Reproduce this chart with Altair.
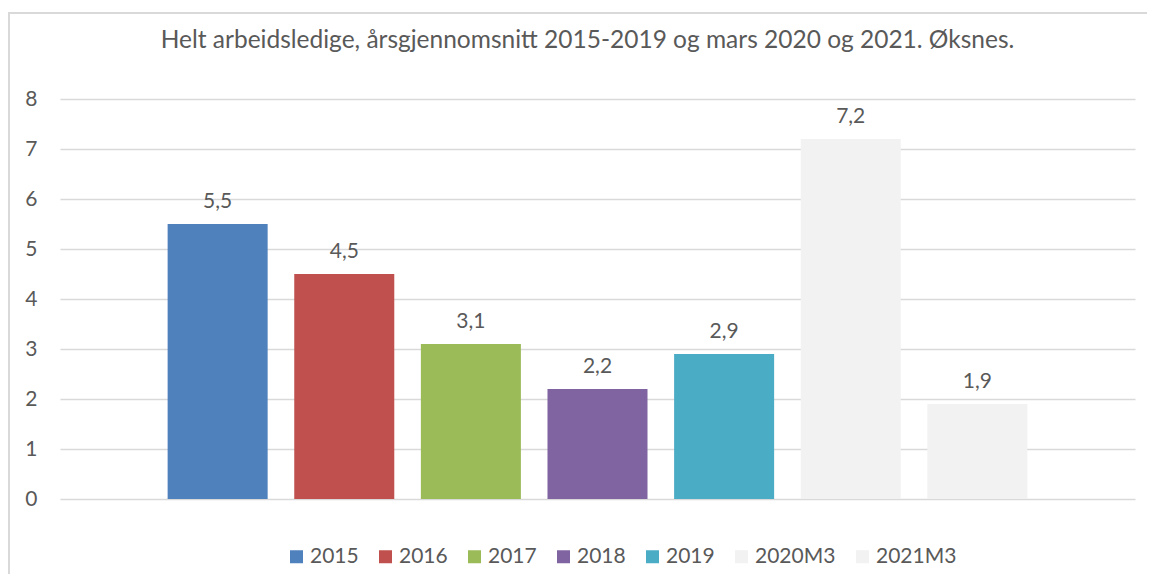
import altair as alt
import pandas as pd

categories = ["2015", "2016", "2017", "2018", "2019", "2020M3", "2021M3"]
values = [5.5, 4.5, 3.1, 2.2, 2.9, 7.2, 1.9]
colors = ["#4F81BD", "#C0504D", "#9BBB59", "#8064A2", "#4BACC6", "#F2F2F2", "#F2F2F2"]
y_ticks = [0, 1, 2, 3, 4, 5, 6, 7, 8]
title_text = "Helt arbeidsledige, årsgjennomsnitt 2015-2019 og mars 2020 og 2021. Øksnes."

df = pd.DataFrame({
    "cat": categories,
    "val": values,
    "label": [f"{v:.1f}".replace(".", ",") for v in values],
})

FONT = "Lato"
TXT = "#595959"

x_enc = alt.X("cat:N", sort=categories, axis=None,
              scale=alt.Scale(paddingInner=0.21, paddingOuter=0.85))
y_scale = alt.Scale(domain=[0, 8])

bars = alt.Chart(df).mark_bar().encode(
    x=x_enc,
    y=alt.Y("val:Q", scale=y_scale, title=None,
            axis=alt.Axis(values=y_ticks, grid=True, gridColor="#D9D9D9", gridWidth=1.5,
                          domain=False, ticks=False, labelPadding=23,
                          labelFont=FONT, labelFontSize=21, labelColor=TXT)),
    color=alt.Color("cat:N", sort=categories,
                    scale=alt.Scale(domain=categories, range=colors),
                    legend=alt.Legend(title=None, orient="none", direction="horizontal",
                                      legendX=226, legendY=447,
                                      symbolType="square", symbolSize=169,
                                      symbolStrokeWidth=0, labelFont=FONT,
                                      labelFontSize=21, labelColor=TXT,
                                      labelOffset=3, columnPadding=16)),
)

labels = alt.Chart(df).mark_text(font=FONT, fontSize=21, color=TXT, dy=-16,
                                 baseline="alphabetic").encode(
    x=alt.X("cat:N", sort=categories),
    y=alt.Y("val:Q", scale=y_scale),
    text="label:N",
)

frame = alt.Chart(df).mark_rect(fill=None, stroke="#D9D9D9", strokeWidth=2).encode(
    x=alt.value(-51), x2=alt.value(1200), y=alt.value(-86), y2=alt.value(600)
)

chart = alt.layer(frame, bars, labels).properties(
    width=1075, height=400,
    title=alt.TitleParams(title_text, font=FONT, fontSize=24.5, fontWeight="normal",
                          color=TXT, anchor="middle", frame="group",
                          baseline="alphabetic", offset=0, dy=60, dx=-10),
    autosize=alt.AutoSizeParams(type="none"),
    padding={"left": 52, "top": 91, "right": 12, "bottom": 75},
).configure_view(stroke=None)

chart.save("out.html", embed_options={"renderer": "svg", "actions": False})
